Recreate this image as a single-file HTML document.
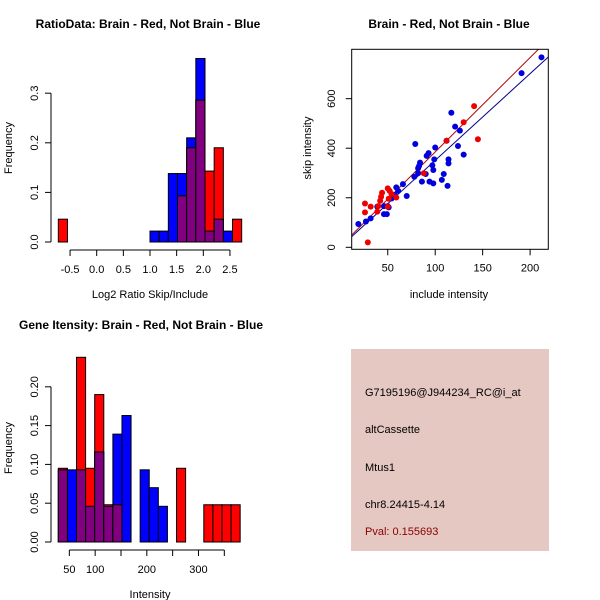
<!DOCTYPE html>
<html><head><meta charset="utf-8"><style>body{margin:0;background:#fff}svg{display:block}text{font-family:"Liberation Sans",sans-serif}</style></head>
<body>
<svg id="chart" width="600" height="600" viewBox="0 0 600 600" xmlns="http://www.w3.org/2000/svg">
<rect width="600" height="600" fill="#fff"/>
<g id="p1"></g>
<g id="p2"></g>
<g id="p3"></g>
<g id="p4">
<rect x="351" y="349" width="198" height="202" fill="#e6c8c2"/>
<text x="365" y="396" font-size="11" fill="#000">G7195196@J944234_RC@i_at</text>
<text x="365" y="433" font-size="11" fill="#000">altCassette</text>
<text x="365" y="471" font-size="11" fill="#000">Mtus1</text>
<text x="365" y="508" font-size="11" fill="#000">chr8.24415-4.14</text>
<text x="365" y="535" font-size="11" fill="#8b0000">Pval: 0.155693</text>
</g>
</svg>
<script>
// Panel 1 data
const ratioBreakStart = -0.72, ratioBinWidth = 0.172;
const ratioRed  = [0.046,0,0,0,0,0,0,0,0,0,0,0,0,0.093,0.19,0.286,0.143,0.19,0,0.046];
const ratioBlue = [0,0,0,0,0,0,0,0,0,0,0.022,0.022,0.138,0.138,0.21,0.37,0.022,0.046,0.022,0];
const ratioXTicks = [-0.5,0.0,0.5,1.0,1.5,2.0,2.5];
const ratioXLabels = ["-0.5","0.0","0.5","1.0","1.5","2.0","2.5"];
const ratioYTicks = [0,0.1,0.2,0.3];
const ratioYLabels = ["0.0","0.1","0.2","0.3"];
// Panel 2 data
const blueX = [19,27,32,39,46,49,50,46,51,54,57,59,61,66,70,78,79,82,82,84,83,86,90,91,93,94,97,98,98,100,99,107,109,112,113,114,114,117,121,124,126,130,191,212];
const blueY = [94,104,117,164,134,134,166,166,161,197,211,242,228,255,207,285,417,299,319,342,328,265,296,369,380,265,331,312,258,403,355,272,296,430,248,355,339,543,487,409,471,374,703,767];
const redX = [26,26,32,29,42,40,44,43,39,50,52,51,50,59,54,88,112,130,141,145];
const redY = [177,141,164,20,188,166,220,204,144,238,228,196,164,201,215,299,430,505,570,436];
const fitRed = [4,3.81];   // intercept, slope
const fitBlue = [1,3.50];
const scXTicks = [50,100,150,200];
const scXLabels = ["50","100","150","200"];
const scYTicks = [0,200,400,600];
const scYLabels = ["0","200","400","600"];
// Panel 3 data
const intBreakStart = 28.7, intBinWidth = 17.6;
const intRed  = [0.095,0,0.238,0.095,0.19,0.048,0.048,0,0,0,0,0,0,0.095,0,0,0.048,0.048,0.048,0.048];
const intBlue = [0.093,0.093,0.093,0.046,0.116,0.046,0.139,0.163,0,0.093,0.07,0.046,0,0,0,0,0,0,0,0];
const intXTicks = [50,100,150,200,250,300,350];
const intXLabels = ["50","100","","200","","300",""];
const intYTicks = [0,0.05,0.10,0.15,0.20];
const intYLabels = ["0.00","0.05","0.10","0.15","0.20"];

const NS="http://www.w3.org/2000/svg";
function mk(parent,tag,attrs,txt){const e=document.createElementNS(NS,tag);for(const k in attrs)e.setAttribute(k,attrs[k]);if(txt!==undefined)e.textContent=txt;parent.appendChild(e);return e;}

function hist(g,cfg){
  const X=v=>cfg.x0+cfg.kx*v, Y=v=>cfg.y0-cfg.ky*v;
  const n=Math.max(cfg.red.length,cfg.blue.length);
  for(let i=0;i<n;i++){
    const a=cfg.start+i*cfg.w, b=a+cfg.w, r=cfg.red[i]||0, bl=cfg.blue[i]||0;
    const m=Math.min(r,bl);
    if(bl>0){const e=mk(g,'rect',{x:X(a),y:Y(bl),width:X(b)-X(a),height:Y(0)-Y(bl),fill:'#0000ff',stroke:'#000','stroke-width':1});
      
      }
    if(r>0){const e=mk(g,'rect',{x:X(a),y:Y(r),width:X(b)-X(a),height:Y(0)-Y(r),fill:'#ff0000',stroke:'#000','stroke-width':1});
      
      }
    if(m>0){const e=mk(g,'rect',{x:X(a),y:Y(m),width:X(b)-X(a),height:Y(0)-Y(m),fill:'#800080',stroke:'#000','stroke-width':1});
      
      }
  }
  // x-axis
  const xa=cfg.xTicks;
  const ax=mk(g,'g',{});
  
  
  mk(ax,'line',{x1:X(xa[0]),x2:X(xa[xa.length-1]),y1:cfg.axY,y2:cfg.axY,stroke:'#000'});
  xa.forEach((t,i)=>{mk(ax,'line',{x1:X(t),x2:X(t),y1:cfg.axY,y2:cfg.axY+6,stroke:'#000'});
    if(cfg.xLabels[i])mk(ax,'text',{x:X(t),y:cfg.axY+23,'font-size':11,'text-anchor':'middle'},cfg.xLabels[i]);});
  const ay=mk(g,'g',{});
  
  
  const ya=cfg.yTicks;
  mk(ay,'line',{x1:51,x2:51,y1:Y(ya[0]),y2:Y(ya[ya.length-1]),stroke:'#000'});
  ya.forEach((t,i)=>{mk(ay,'line',{x1:45,x2:51,y1:Y(t),y2:Y(t),stroke:'#000'});
    mk(ay,'text',{x:0,y:0,'font-size':11,'text-anchor':'middle',transform:`translate(38,${Y(t)}) rotate(-90)`},cfg.yLabels[i]);});
  const t=mk(g,'text',{x:cfg.titleX,y:cfg.titleY,'font-size':12,'font-weight':'bold','text-anchor':'middle'},cfg.title);
  
  
  const xl=mk(g,'text',{x:150,y:cfg.xlabY,'font-size':11,'text-anchor':'middle'},cfg.xlab);
  
  
  const yl=mk(g,'text',{x:0,y:0,'font-size':11,'text-anchor':'middle',transform:`translate(12,${cfg.ylabCY}) rotate(-90)`},'Frequency');
  
  
}

hist(document.getElementById('p1'),{x0:96.7,kx:53.3,y0:242,ky:496,start:ratioBreakStart,w:ratioBinWidth,red:ratioRed,blue:ratioBlue,
  xTicks:ratioXTicks,xLabels:ratioXLabels,yTicks:ratioYTicks,yLabels:ratioYLabels,axY:250,
  title:'RatioData: Brain - Red, Not Brain - Blue',titleX:148,titleY:28,xlab:'Log2 Ratio Skip/Include',xlabY:298,ylabCY:148});
hist(document.getElementById('p3'),{x0:43.5,kx:0.5166,y0:542,ky:776,start:intBreakStart,w:intBinWidth,red:intRed,blue:intBlue,
  xTicks:intXTicks,xLabels:intXLabels,yTicks:intYTicks,yLabels:intYLabels,axY:550,
  title:'Gene Itensity: Brain - Red, Not Brain - Blue',titleX:141,titleY:329,xlab:'Intensity',xlabY:598,ylabCY:448});

// Scatter
(function(){
  const g=document.getElementById('p2');
  const X=v=>340.3+0.949*v, Y=v=>247.3-0.2477*v;
  const L=351.7,R=548.3,T=49.3,B=249.3;
  const cp=mk(g,'clipPath',{id:'clipSc'});mk(cp,'rect',{x:L,y:T,width:R-L,height:B-T});
  const lines=mk(g,'g',{'clip-path':'url(#clipSc)'});
  [[fitRed,'#b00000','fit-line-brain'],[fitBlue,'#00008b','fit-line-not-brain']].forEach(([f,c,n])=>{
    const e=mk(lines,'line',{x1:X(0),y1:Y(f[0]),x2:X(240),y2:Y(f[0]+f[1]*240),stroke:c,'stroke-width':1});
    
    
  });
  blueX.forEach((x,i)=>{const e=mk(g,'circle',{cx:X(x),cy:Y(blueY[i]),r:3,fill:'#0000dd'});
    
    });
  redX.forEach((x,i)=>{const e=mk(g,'circle',{cx:X(x),cy:Y(redY[i]),r:3,fill:'#ee0000'});
    
    });
  const box=mk(g,'rect',{x:L,y:T,width:R-L,height:B-T,fill:'none',stroke:'#000'});
  
  
  const ax=mk(g,'g',{});
  
  
  scXTicks.forEach((t,i)=>{mk(ax,'line',{x1:X(t),x2:X(t),y1:B,y2:B+6,stroke:'#000'});
    mk(ax,'text',{x:X(t),y:B+22,'font-size':11,'text-anchor':'middle'},scXLabels[i]);});
  const ay=mk(g,'g',{});
  
  
  scYTicks.forEach((t,i)=>{mk(ay,'line',{x1:L-6,x2:L,y1:Y(t),y2:Y(t),stroke:'#000'});
    mk(ay,'text',{x:0,y:0,'font-size':11,'text-anchor':'middle',transform:`translate(335,${Y(t)}) rotate(-90)`},scYLabels[i]);});
  const t=mk(g,'text',{x:449,y:28,'font-size':12,'font-weight':'bold','text-anchor':'middle'},'Brain - Red, Not Brain - Blue');
  
  
  const xl=mk(g,'text',{x:449,y:298,'font-size':11,'text-anchor':'middle'},'include intensity');
  
  
  const yl=mk(g,'text',{x:0,y:0,'font-size':11,'text-anchor':'middle',transform:'translate(311,148) rotate(-90)'},'skip intensity');
  
  
})();
</script>
</body></html>
